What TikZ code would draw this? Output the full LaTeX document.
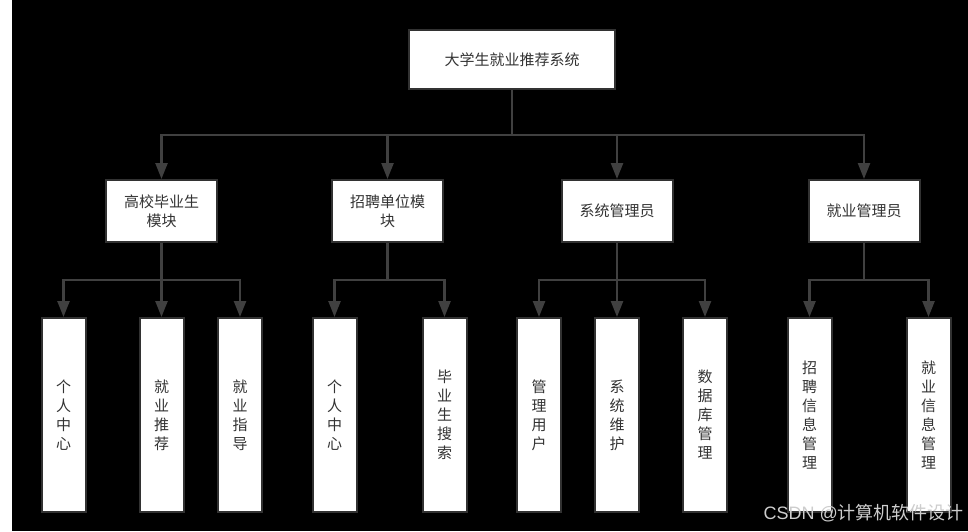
\documentclass[tikz,border=0pt]{standalone}
\usepackage{fontspec}
\setmainfont{Noto Sans CJK SC}
\newfontfamily\wmlatin{Liberation Sans}
\newfontfamily\wmcjk{Noto Sans CJK SC}
\usetikzlibrary{arrows.meta}
\definecolor{conncol}{RGB}{64,64,64}
\definecolor{bordcol}{RGB}{50,50,50}
\definecolor{txtcol}{RGB}{51,51,51}
\definecolor{wmcol}{RGB}{205,205,205}
\begin{document}
\begin{tikzpicture}[x=1pt,y=-1pt,
 box/.style={draw=bordcol, line width=2pt, fill=white, inner sep=0pt, text=txtcol, font=\fontsize{15}{19}\selectfont, align=center},
 topbox/.style={box, minimum width=206pt, minimum height=59pt},
 midbox/.style={box, minimum width=111pt, minimum height=62pt},
 leafbox/.style={box, minimum width=44pt, minimum height=194pt},
 conn/.style={draw=conncol, line width=2.4pt, -{Triangle[length=16pt,width=12pt]}},
 wmark/.style={text=wmcol, inner sep=0pt, anchor=east}]
\useasboundingbox (0,0) rectangle (968,531);
\fill[black] (0,0) rectangle (968,531);
\fill[white] (0,0) rectangle (12,531);

\node[topbox] (top) at (512,59.5) {大学生就业推荐系统};

\node[midbox] (m1) at (161.5,211) {高校毕业生\\模块};
\node[midbox] (m2) at (387.5,211) {招聘单位模\\块};
\node[midbox] (m3) at (617,211) {系统管理员};
\node[midbox] (m4) at (864,211) {就业管理员};

\node[leafbox] (l1) at (63.5,415) {个\\人\\中\\心};
\node[leafbox] (l2) at (161.5,415) {就\\业\\推\\荐};
\node[leafbox] (l3) at (240,415) {就\\业\\指\\导};
\node[leafbox] (l4) at (334.5,415) {个\\人\\中\\心};
\node[leafbox] (l5) at (444.5,415) {毕\\业\\生\\搜\\索};
\node[leafbox] (l6) at (539,415) {管\\理\\用\\户};
\node[leafbox] (l7) at (617,415) {系\\统\\维\\护};
\node[leafbox] (l8) at (705,415) {数\\据\\库\\管\\理};
\node[leafbox] (l9) at (809.5,415) {招\\聘\\信\\息\\管\\理};
\node[leafbox] (l10) at (928.5,415) {就\\业\\信\\息\\管\\理};

\coordinate (bus0) at (512,135);
\coordinate (bus1) at (0,280);

\foreach \m in {m1,m2,m3,m4}
  \draw[conn] (top.south) -- (top.south |- bus0) -| (\m.north);

\foreach \l in {l1,l2,l3}
  \draw[conn] (m1.south) -- (m1.south |- bus1) -| (\l.north);
\foreach \l in {l4,l5}
  \draw[conn] (m2.south) -- (m2.south |- bus1) -| (\l.north);
\foreach \l in {l6,l7,l8}
  \draw[conn] (m3.south) -- (m3.south |- bus1) -| (\l.north);
\foreach \l in {l9,l10}
  \draw[conn] (m4.south) -- (m4.south |- bus1) -| (\l.north);

\node[wmark] (wm) at (964,513) {\fontsize{18}{18}\selectfont\wmlatin CSDN @\wmcjk 计算机软件设计};
\end{tikzpicture}
\end{document}
